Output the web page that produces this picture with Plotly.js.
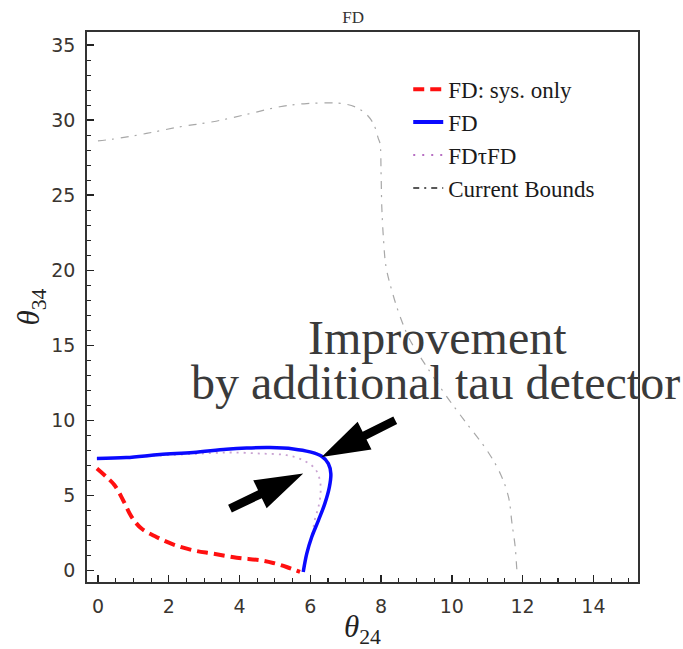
<!DOCTYPE html>
<html>
<head>
<meta charset="utf-8">
<script src="https://cdn.plot.ly/plotly-3.0.1.min.js"></script>
<style>html,body{margin:0;padding:0;background:#fff;}#chart{width:683px;height:649px;}</style>
</head>
<body>
<div id="chart"></div>
<script>
// ---- data ----
const sysOnlyX = [-0.03, 0.24, 0.47, 0.71, 0.95, 1.23, 1.65, 2.12, 2.69, 3.25, 3.92, 4.58, 4.95, 5.33, 5.71];
const sysOnlyY = [6.78, 6.22, 5.67, 4.67, 3.56, 2.78, 2.22, 1.73, 1.33, 1.11, 0.84, 0.67, 0.49, 0.22, -0.11];

const fdX = [-0.03, 0.80, 1.75, 2.69, 3.63, 4.20, 4.86, 5.52, 5.99, 6.32, 6.51, 6.58, 6.54, 6.41, 6.23, 6.04, 5.90, 5.80];
const fdY = [7.45, 7.51, 7.71, 7.85, 8.07, 8.15, 8.18, 8.09, 7.89, 7.60, 7.11, 6.44, 5.56, 4.44, 3.33, 2.22, 1.11, -0.11];

const fdTauX = [-0.03, 0.80, 1.75, 2.69, 3.30, 3.82, 4.58, 5.33, 5.80, 6.13, 6.27, 6.29, 6.23, 6.13, 6.04, 5.90, 5.80];
const fdTauY = [7.45, 7.50, 7.65, 7.75, 7.82, 7.85, 7.78, 7.67, 7.33, 6.78, 6.00, 5.11, 4.22, 3.40, 2.22, 1.11, -0.11];

const boundsX = [0.00, 0.42, 1.37, 2.31, 3.25, 4.20, 5.14, 5.90, 7.03, 7.50, 7.78, 7.92, 7.97, 8.00, 8.02, 8.07, 8.14, 8.30, 8.54, 8.82, 9.29, 9.86, 10.42, 10.99, 11.37, 11.60, 11.70, 11.79, 11.84, 11.85];
const boundsY = [28.62, 28.73, 29.11, 29.55, 29.89, 30.38, 30.89, 31.10, 31.05, 30.56, 29.78, 28.78, 28.44, 26.44, 24.22, 22.00, 20.22, 18.67, 16.89, 15.33, 13.56, 11.56, 9.78, 8.00, 6.44, 4.89, 3.11, 1.56, 0.00, -0.10];

const seriesNames = ['FD: sys. only', 'FD', 'FD\u03c4FD', 'Current Bounds'];
const xTickVals = [0, 2, 4, 6, 8, 10, 12, 14];
const yTickVals = [0, 5, 10, 15, 20, 25, 30, 35];

// annotation arrows: [tailX, tailY, tipX, tipY] in data units
const arrowA = [8.40, 10.0, 6.32, 7.55];
const arrowB = [3.73, 4.11, 5.80, 6.45];

// ---- layout geometry ----
const W = 683, H = 649;
const M = {l: 87, r: 45, t: 32, b: 67};
const xRange = [-0.31, 15.26];
const yRange = [-0.78, 35.87];
const plotW = W - M.l - M.r, plotH = H - M.t - M.b;
const sx = plotW / (xRange[1] - xRange[0]);
const sy = plotH / (yRange[1] - yRange[0]);

function arrowPath(a) {
  const S = [a[0] * sx, -a[1] * sy], T = [a[2] * sx, -a[3] * sy];
  const dx = T[0] - S[0], dy = T[1] - S[1];
  const len = Math.hypot(dx, dy);
  const u = [dx / len, dy / len], n = [-u[1], u[0]];
  const L = 48, Wh = 15.5, h = 4.3;
  const B = [T[0] - u[0] * L, T[1] - u[1] * L];
  const pts = [
    [S[0] + n[0] * h, S[1] + n[1] * h],
    [B[0] + n[0] * h, B[1] + n[1] * h],
    [B[0] + n[0] * Wh, B[1] + n[1] * Wh],
    T,
    [B[0] - n[0] * Wh, B[1] - n[1] * Wh],
    [B[0] - n[0] * h, B[1] - n[1] * h],
    [S[0] - n[0] * h, S[1] - n[1] * h]
  ];
  return 'M' + pts.map(p => (p[0] / sx).toFixed(4) + ',' + (-p[1] / sy).toFixed(4)).join('L') + 'Z';
}

const traces = [
  {x: boundsX, y: boundsY, mode: 'lines', showlegend: false, hoverinfo: 'skip',
   line: {color: '#a8a8a8', width: 1.2, dash: '8px,6px,2px,7px', shape: 'spline'}},
  {x: fdTauX, y: fdTauY, mode: 'lines', showlegend: false, hoverinfo: 'skip',
   line: {color: '#c9a3d2', width: 1.8, dash: '2px,5px', shape: 'spline'}},
  {x: fdX, y: fdY, mode: 'lines', name: seriesNames[1], showlegend: false,
   line: {color: '#0a0aff', width: 3.5, shape: 'spline'}},
  {x: sysOnlyX, y: sysOnlyY, mode: 'lines', name: seriesNames[0], showlegend: false,
   line: {color: '#ff1010', width: 4, dash: '11px,6px', shape: 'spline'}},
  // legend entries
  {x: [null], y: [null], mode: 'lines', name: seriesNames[0], line: {color: '#ff1010', width: 4, dash: '11px,6px'}},
  {x: [null], y: [null], mode: 'lines', name: seriesNames[1], line: {color: '#0a0aff', width: 4}},
  {x: [null], y: [null], mode: 'lines', name: seriesNames[2], line: {color: '#a040b0', width: 1.5, dash: '2px,7px'}},
  {x: [null], y: [null], mode: 'lines', name: seriesNames[3], line: {color: '#222', width: 1.5, dash: '6px,5px,2px,5px'}}
];

const tickFont = {family: 'DejaVu Sans', size: 19, color: '#3a3530'};
const axisCommon = {
  showgrid: false, zeroline: false, showline: true, mirror: true,
  linecolor: '#333', linewidth: 1.8,
  ticks: 'inside', ticklen: 7, tickwidth: 1.3, tickcolor: '#222',
  tickfont: tickFont, ticklabelstandoff: 6, fixedrange: true
};

const layout = {
  width: W, height: H, margin: M,
  paper_bgcolor: '#fff', plot_bgcolor: '#fff',
  title: {text: 'FD', font: {family: 'Liberation Serif', size: 17, color: '#333'},
          xref: 'paper', x: 0.483, xanchor: 'center', yref: 'container', y: 1 - 17 / H, yanchor: 'middle'},
  xaxis: Object.assign({}, axisCommon, {
    range: xRange, tickvals: xTickVals,
    minor: {dtick: 0.5, ticks: 'inside', ticklen: 4, tickwidth: 1.1, tickcolor: '#222'},
    title: {text: '<i>\u03b8</i><sub>24</sub>', font: {family: 'Liberation Serif', size: 31, color: '#222'}, standoff: 8}
  }),
  yaxis: Object.assign({}, axisCommon, {
    range: yRange, tickvals: yTickVals,
    minor: {dtick: 1, ticks: 'inside', ticklen: 4, tickwidth: 1.1, tickcolor: '#222'},
    title: {text: '<i>\u03b8</i><sub>34</sub>', font: {family: 'Liberation Serif', size: 31, color: '#222'}, standoff: 2}
  }),
  legend: {x: 0.583, xanchor: 'left', y: 0.935, yanchor: 'top', bgcolor: 'rgba(0,0,0,0)',
           font: {family: 'Liberation Serif', size: 23, color: '#1a1a1a'}},
  annotations: [
    {text: 'Improvement', x: 9.6, y: 15.5, xref: 'x', yref: 'y', showarrow: false,
     xanchor: 'center', yanchor: 'middle', font: {family: 'Liberation Serif', size: 48, color: '#3a3a3a'}},
    {text: 'by additional tau detector', x: 9.53, y: 12.5, xref: 'x', yref: 'y', showarrow: false,
     xanchor: 'center', yanchor: 'middle', font: {family: 'Liberation Serif', size: 48, color: '#3a3a3a'}}
  ],
  shapes: [
    {type: 'path', xref: 'x', yref: 'y', path: arrowPath(arrowA), fillcolor: '#000', line: {width: 0}},
    {type: 'path', xref: 'x', yref: 'y', path: arrowPath(arrowB), fillcolor: '#000', line: {width: 0}}
  ]
};

Plotly.newPlot('chart', traces, layout, {displayModeBar: false, staticPlot: true});
</script>
</body>
</html>
